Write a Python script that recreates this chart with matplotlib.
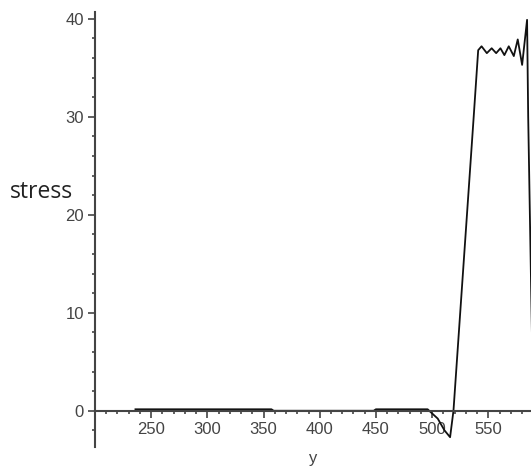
import matplotlib.pyplot as plt
from matplotlib.ticker import MultipleLocator

# stress profile along y
y_pos = [236, 300, 357, 359, 448, 450, 496, 505, 511, 516, 519,
         525, 531, 537, 541,
         544, 548.7, 553, 557, 560.8, 564.3, 568.2, 572.7, 576.2, 580.1,
         584.5, 585.5, 590]
stress = [0.15, 0.15, 0.15, 0.0, 0.0, 0.15, 0.15, -0.8, -2.0, -2.7, 0.0,
          10.0, 20.0, 30.0, 36.8,
          37.2, 36.5, 37.0, 36.5, 37.0, 36.3, 37.2, 36.2, 37.9, 35.3,
          39.9, 30.0, 0.0]

fig = plt.figure(figsize=(5.31, 4.71), dpi=100)
ax = fig.add_axes([95 / 531, 1 - 447 / 471, 436 / 531, 435 / 471])

ax.plot(y_pos, stress, color='#111111', lw=1.3)

ax.set_xlim(200, 588)
ax.set_ylim(-3.7, 40.7)

ax.spines['top'].set_visible(False)
ax.spines['right'].set_visible(False)
ax.spines['bottom'].set_position(('data', 0))
for s in ('left', 'bottom'):
    ax.spines[s].set_color('#444444')
    ax.spines[s].set_linewidth(1.5)

ax.xaxis.set_minor_locator(MultipleLocator(10))
ax.yaxis.set_major_locator(MultipleLocator(10))
ax.yaxis.set_minor_locator(MultipleLocator(2))
ax.set_xticks([250, 300, 350, 400, 450, 500, 550])

tick_font = ['Liberation Sans', 'DejaVu Sans']
ax.tick_params(which='major', direction='out', length=5, width=1.2,
               color='#444444', labelcolor='#444444', labelsize=12, pad=3)
ax.tick_params(which='minor', direction='out', length=2.5, width=1.2,
               color='#444444')
for lab in ax.get_xticklabels() + ax.get_yticklabels():
    lab.set_family(tick_font)

ax.set_xlabel('y', family=tick_font, fontsize=12, color='#444444', va='center')
ax.xaxis.set_label_coords((313 - 95) / 436, (447 - 459) / 435)
fig.text(10 / 531, 1 - 192 / 471, 'stress', family=['Open Sans', 'DejaVu Sans'],
         fontsize=16.5, color='#222222', va='center', ha='left')

fig.savefig('out.png', dpi=100)
